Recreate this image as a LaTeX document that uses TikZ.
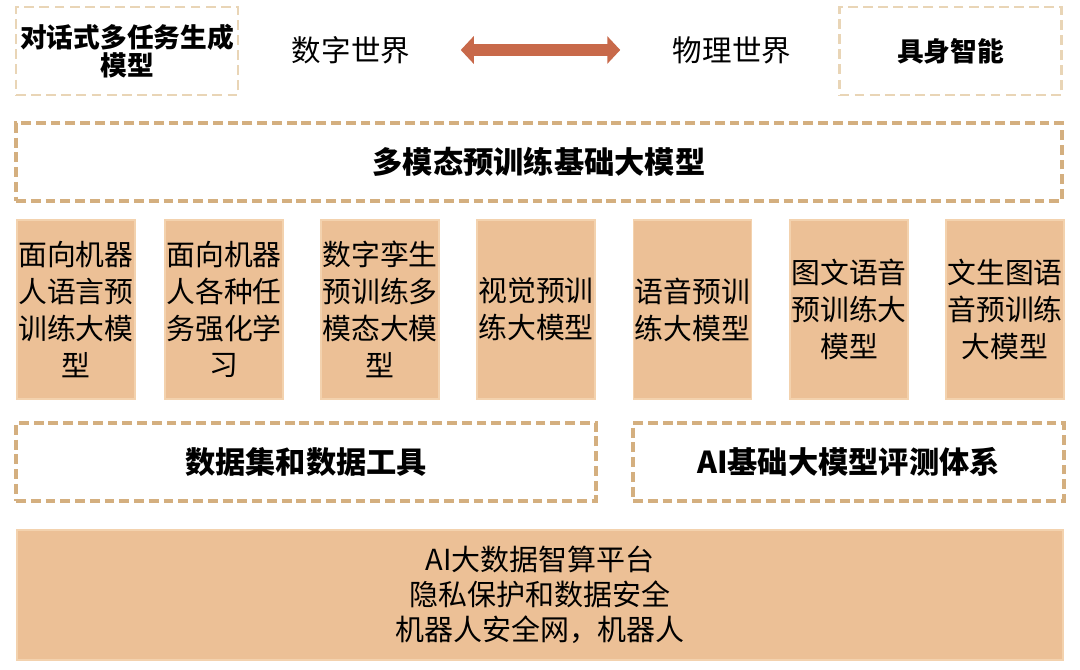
\documentclass[tikz,border=0pt]{standalone}
\usepackage{fontspec}
\setmainfont{Noto Sans CJK SC}
\usetikzlibrary{arrows.meta}
\definecolor{boxfill}{HTML}{ECC096}
\definecolor{boxedge}{HTML}{F3D2AE}
\definecolor{dashtan}{HTML}{D4AF7F}
\definecolor{dashlight}{HTML}{E9D5B6}
\definecolor{linkred}{HTML}{C8694A}

\begin{document}
\begin{tikzpicture}[
    frame/.style={draw=dashtan, line width=1.1pt, dash pattern=on 2.8pt off 1.4pt, minimum height=0.78cm, inner sep=0pt, font=\fontsize{8.6}{10}\selectfont\bfseries},
    topframe/.style={draw=dashlight, line width=0.8pt, dash pattern=on 2.8pt off 1.5pt, minimum width=2.22cm, minimum height=0.88cm, inner sep=0pt, align=center, font=\fontsize{7.6}{7.8}\selectfont\bfseries},
    model/.style={fill=boxfill, draw=boxedge, line width=0.3pt, minimum width=1.18cm, minimum height=1.79cm, inner sep=0pt, align=center, font=\fontsize{8.2}{10.5}\selectfont},
    world/.style={inner sep=0pt, font=\fontsize{8.4}{10}\selectfont},
    bigarrow/.style={{Triangle[length=0.13cm, width=0.27cm]}-{Triangle[length=0.13cm, width=0.27cm]}, line width=0.12cm, color=linkred},
]
\useasboundingbox (0,0) rectangle (10.8,-6.7);

% Top row
\node[topframe] (chat) at (1.27,-0.51) {对话式多任务生成\\模型};
\node[world] (digital) at (3.51,-0.50) {数字世界};
\node[world] (physical) at (7.32,-0.50) {物理世界};
\node[topframe] (embodied) at (9.505,-0.51) {具身智能};
\draw[bigarrow, shorten <=0.5cm, shorten >=0.52cm] (digital.east) -- (physical.west);

% Foundation model
\node[frame, minimum width=10.46cm] (base) at (5.39,-1.62) {多模态预训练基础大模型};

% Pretrained models
\foreach \x/\name/\txt in {
    0.76/m1/{面向机器\\人语言预\\训练大模\\型},
    2.24/m2/{面向机器\\人各种任\\务强化学\\习},
    3.80/m3/{数字孪生\\预训练多\\模态大模\\型},
    5.36/m4/{视觉预训\\练大模型},
    6.925/m5/{语音预训\\练大模型},
    8.49/m6/{图文语音\\预训练大\\模型},
    10.05/m7/{文生图语\\音预训练\\大模型}}
    \node[model] (\name) at (\x,-3.095) {\txt};

% Data and evaluation
\node[frame, minimum width=5.80cm] (data) at (3.06,-4.62) {数据集和数据工具};
\node[frame, minimum width=4.31cm] (evalsys) at (8.485,-4.62) {AI基础大模型评测体系};

% Platform
\node[fill=boxfill, draw=boxedge, line width=0.3pt, minimum width=10.46cm, minimum height=1.30cm, align=center, font=\fontsize{8.25}{10}\selectfont] (platform) at (5.40,-5.95) {AI大数据智算平台\\隐私保护和数据安全\\机器人安全网，机器人};

\end{tikzpicture}
\end{document}
